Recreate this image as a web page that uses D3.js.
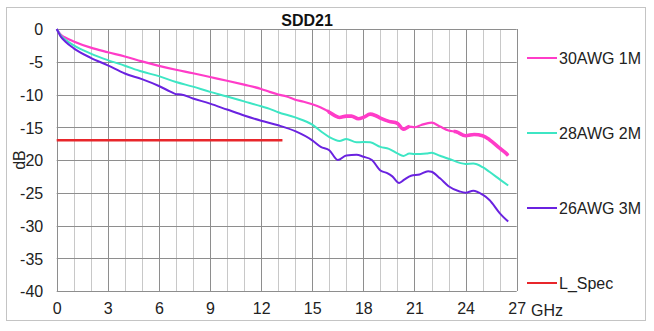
<!DOCTYPE html>
<html>
<head>
<meta charset="utf-8">
<script src="https://cdn.jsdelivr.net/npm/d3@7"></script>
<style>
  html, body { margin: 0; padding: 0; background: #fff; }
  svg { display: block; font-family: "Liberation Sans", Arial, sans-serif; }
</style>
</head>
<body>
<svg id="chart" width="654" height="331"></svg>
<script>
// Insertion loss (SDD21) of three cable assemblies versus frequency
const seriesNames = ["30AWG 1M", "28AWG 2M", "26AWG 3M"];
const specName = "L_Spec";

const freq30 = [0, 0.25, 0.5, 1, 2, 3, 4, 5, 6, 7, 8, 9, 10, 11, 12, 12.5, 13, 13.5, 14, 14.5, 15, 15.5, 16, 16.3, 16.6, 17, 17.3, 17.7, 18, 18.4, 18.7, 19, 19.5, 20, 20.35, 20.7, 21, 21.4, 22, 22.5, 23, 23.45, 24, 24.5, 25, 25.4, 26, 26.3, 26.5];
const loss30 = [0, -0.9, -1.3, -1.9, -2.85, -3.55, -4.2, -4.95, -5.62, -6.22, -6.75, -7.33, -7.9, -8.5, -9.15, -9.6, -10.0, -10.3, -10.8, -11.1, -11.5, -12.0, -12.7, -13.2, -13.5, -13.3, -13.3, -13.7, -13.5, -13.0, -13.2, -13.6, -14.1, -14.4, -15.3, -14.9, -15.0, -14.65, -14.3, -14.9, -15.5, -15.7, -16.3, -16.1, -16.3, -16.9, -18.2, -18.8, -19.3];

const freq28 = [0, 0.25, 0.5, 1, 2, 3, 4, 5, 6, 7, 8, 9, 10, 11, 12, 12.5, 13, 14, 15, 15.6, 16, 16.6, 17, 17.6, 18, 18.4, 19, 19.5, 20, 20.35, 20.7, 21, 21.7, 22, 22.5, 23, 24, 24.45, 25, 25.4, 26, 26.5];
const loss28 = [0, -1.0, -1.6, -2.5, -3.75, -4.75, -5.6, -6.5, -7.2, -8.1, -8.8, -9.6, -10.3, -11.05, -11.8, -12.2, -12.7, -13.5, -14.6, -15.8, -16.5, -17.1, -16.8, -17.3, -17.25, -17.3, -18.0, -18.3, -19.0, -19.4, -19.0, -19.1, -19.0, -18.9, -19.35, -19.8, -20.6, -20.55, -21.1, -21.8, -22.95, -23.9];

const freq26 = [0, 0.25, 0.5, 1, 2, 3, 4, 5, 6, 6.7, 7, 7.3, 8, 9, 10, 11, 12, 13, 14, 15, 15.5, 16, 16.5, 17, 17.6, 18, 18.5, 19, 19.4, 19.7, 20.1, 20.4, 20.8, 21.3, 21.8, 22, 22.5, 23, 23.65, 24, 24.45, 25, 25.4, 26, 26.5];
const loss26 = [0, -1.2, -1.9, -2.95, -4.4, -5.55, -6.8, -7.65, -8.7, -9.6, -9.95, -10.0, -10.6, -11.4, -12.3, -13.2, -14.0, -14.7, -15.6, -17.0, -18.0, -18.5, -20.0, -19.3, -19.2, -19.5, -20.0, -21.6, -22.0, -22.5, -23.5, -23.0, -22.4, -22.2, -21.7, -21.8, -22.8, -24.0, -24.8, -25.0, -24.7, -25.3, -26.1, -28.1, -29.4];

// Limit line
const specFreq = [0, 13.25];
const specLoss = [-17, -17];

const xTickLabels = [0, 3, 6, 9, 12, 15, 18, 21, 24, 27];
const xMinorTicks = d3.range(0, 28, 1);
const yTickLabels = [0, -5, -10, -15, -20, -25, -30, -35, -40];

// Bands where the 1M trace is noisy and renders as a thicker ribbon
const noisyBands = [[15.9, 20.7], [23.3, 26.6]];

const colors = ["#ff3cc8", "#3de6c4", "#6a22e0"];
const specColor = "#e8262b";

const svg = d3.select("#chart");

const x = d3.scaleLinear().domain([0, 27]).range([56.7, 516.7]);
const y = d3.scaleLinear().domain([-40, 0]).range([291, 29]);

// outer frame
svg.append("rect")
  .attr("x", 6.5).attr("y", 7.5).attr("width", 639).attr("height", 313)
  .attr("fill", "#fff").attr("stroke", "#c4c4c4").attr("stroke-width", 1);

// title
svg.append("text")
  .attr("x", 307).attr("y", 26)
  .attr("text-anchor", "middle")
  .attr("font-size", 16).attr("font-weight", "bold")
  .attr("fill", "#111")
  .text("SDD21");

// grid
const grid = svg.append("g");
grid.selectAll("line.minor")
  .data(xMinorTicks.filter(d => d % 3 !== 0))
  .join("line")
  .attr("x1", d => Math.round(x(d)) + 0.5).attr("x2", d => Math.round(x(d)) + 0.5)
  .attr("y1", y(0)).attr("y2", y(-40))
  .attr("stroke", "#c8c8c8").attr("stroke-width", 1);
grid.selectAll("line.major")
  .data(xTickLabels)
  .join("line")
  .attr("x1", d => Math.round(x(d)) + 0.5).attr("x2", d => Math.round(x(d)) + 0.5)
  .attr("y1", y(0)).attr("y2", y(-40))
  .attr("stroke", "#8e8e8e").attr("stroke-width", 1);
grid.selectAll("line.h")
  .data(yTickLabels)
  .join("line")
  .attr("x1", x(0)).attr("x2", x(27))
  .attr("y1", d => Math.round(y(d)) + 0.5).attr("y2", d => Math.round(y(d)) + 0.5)
  .attr("stroke", "#8e8e8e").attr("stroke-width", 1);

// axes (labels only)
const plainNum = d => String(d);
const yAxis = svg.append("g")
  .attr("transform", `translate(${x(0) - 13.5},0)`)
  .call(d3.axisLeft(y).tickValues(yTickLabels).tickSize(0).tickPadding(0).tickFormat(plainNum));
yAxis.select(".domain").remove();
yAxis.selectAll("text")
  .attr("font-size", 16).attr("fill", "#222")
  .attr("font-family", "Liberation Sans, Arial, sans-serif")
  .attr("dy", "0.36em");

const xAxis = svg.append("g")
  .attr("transform", `translate(0,${y(-40) + 12})`)
  .call(d3.axisBottom(x).tickValues(xTickLabels).tickSize(0).tickPadding(0).tickFormat(plainNum));
xAxis.select(".domain").remove();
xAxis.selectAll("text")
  .attr("font-size", 16).attr("fill", "#222")
  .attr("font-family", "Liberation Sans, Arial, sans-serif")
  .attr("dy", "0.71em");

svg.append("text")
  .attr("x", 531).attr("y", 316)
  .attr("font-size", 16).attr("fill", "#222")
  .text("GHz");

// y axis title, boxed over the label column
const dbG = svg.append("g").attr("transform", `translate(19.5,${y(-20)}) rotate(-90)`);
dbG.append("rect").attr("x", -9).attr("y", -6).attr("width", 18).attr("height", 11).attr("fill", "#fff");
dbG.append("text")
  .attr("text-anchor", "middle").attr("dy", "0.36em")
  .attr("font-size", 16).attr("fill", "#222")
  .text("dB");

// curves
const line = d3.line().x(d => x(d[0])).y(d => y(d[1])).curve(d3.curveMonotoneX);
const seriesData = [
  d3.zip(freq30, loss30),
  d3.zip(freq28, loss28),
  d3.zip(freq26, loss26)
];
const widths = [2.2, 2, 2];

const defs = svg.append("defs");
const clip = defs.append("clipPath").attr("id", "noisy");
clip.selectAll("rect")
  .data(noisyBands)
  .join("rect")
  .attr("x", d => x(d[0])).attr("width", d => x(d[1]) - x(d[0]))
  .attr("y", y(0)).attr("height", y(-40) - y(0));

svg.append("g").selectAll("path")
  .data(seriesData)
  .join("path")
  .attr("d", line)
  .attr("fill", "none")
  .attr("stroke", (d, i) => colors[i])
  .attr("stroke-width", (d, i) => widths[i])
  .attr("stroke-linejoin", "round");

// thicker ribbon for the noisy sections of the 1M trace
svg.append("path")
  .datum(seriesData[0])
  .attr("d", line)
  .attr("clip-path", "url(#noisy)")
  .attr("fill", "none")
  .attr("stroke", colors[0])
  .attr("stroke-width", 3.6)
  .attr("stroke-linejoin", "round");

svg.append("path")
  .datum(d3.zip(specFreq, specLoss))
  .attr("d", d3.line().x(d => x(d[0])).y(d => y(d[1])))
  .attr("stroke", specColor).attr("stroke-width", 2.5).attr("fill", "none");

// legend
const legendNames = seriesNames.concat([specName]);
const legendColors = colors.concat([specColor]);
const legendY = [58, 133, 208, 283];
const lg = svg.append("g").selectAll("g")
  .data(legendNames)
  .join("g")
  .attr("transform", (d, i) => `translate(527,${legendY[i]})`);
lg.append("line")
  .attr("x1", 0).attr("x2", 30).attr("y1", 0).attr("y2", 0)
  .attr("stroke", (d, i) => legendColors[i]).attr("stroke-width", 2);
lg.append("text")
  .attr("x", 32).attr("dy", "0.36em")
  .attr("font-size", 16).attr("fill", "#222")
  .text(d => d);
</script>
</body>
</html>
